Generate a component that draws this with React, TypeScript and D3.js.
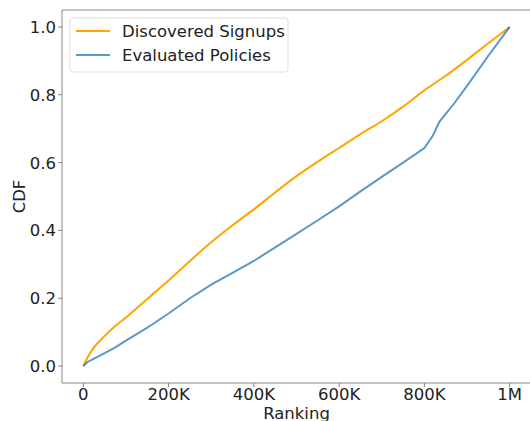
import { useEffect, useRef } from 'react';
import * as d3 from 'd3';

// Ranking positions (x) and CDF values (y)
const signupRanks = [0, 10e3, 25e3, 50e3, 75e3, 100e3, 150e3, 200e3, 250e3, 300e3, 350e3, 400e3, 450e3, 500e3, 550e3, 600e3, 650e3, 700e3, 750e3, 800e3, 850e3, 900e3, 950e3, 1e6];
const signupCdf = [0, 0.025, 0.055, 0.089, 0.118, 0.143, 0.198, 0.252, 0.31, 0.365, 0.415, 0.462, 0.512, 0.56, 0.603, 0.643, 0.684, 0.722, 0.765, 0.813, 0.856, 0.903, 0.952, 1.0];

const policyRanks = [0, 10e3, 25e3, 50e3, 75e3, 100e3, 150e3, 200e3, 250e3, 300e3, 350e3, 400e3, 450e3, 500e3, 550e3, 600e3, 650e3, 700e3, 750e3, 800e3, 820e3, 835e3, 870e3, 900e3, 950e3, 1e6];
const policyCdf = [0, 0.012, 0.022, 0.038, 0.055, 0.075, 0.113, 0.155, 0.2, 0.24, 0.275, 0.31, 0.35, 0.39, 0.43, 0.471, 0.515, 0.558, 0.6, 0.643, 0.68, 0.72, 0.775, 0.826, 0.915, 1.0];

const xTicks = [0, 200e3, 400e3, 600e3, 800e3, 1e6];
const xTickLabels = ['0', '200K', '400K', '600K', '800K', '1M'];
const yTicks = [0, 0.2, 0.4, 0.6, 0.8, 1.0];

const seriesNames = ['Discovered Signups', 'Evaluated Policies'];

const FONT = 'DejaVu Sans, sans-serif';

export default function App() {
  const svgRef = useRef<SVGSVGElement>(null);

  useEffect(() => {
    if (!svgRef.current) return;
    const svg = d3.select(svgRef.current);
    svg.selectAll('*').remove();

    const width = 530;
    const height = 421;
    const margin = { top: 10, left: 62, bottom: 383 };
    const plotRight = 531;

    const x = d3.scaleLinear().domain([-50e3, 1.05e6]).range([margin.left, plotRight]);
    const y = d3.scaleLinear().domain([-0.05, 1.05]).range([margin.bottom, margin.top]);

    svg.attr('width', width).attr('height', height);

    const smooth = d3
      .line<[number, number]>()
      .x((d) => x(d[0]))
      .y((d) => y(d[1]))
      .curve(d3.curveMonotoneX);
    const straight = d3
      .line<[number, number]>()
      .x((d) => x(d[0]))
      .y((d) => y(d[1]));

    const series = [
      { name: seriesNames[0], pts: signupRanks.map((r, i) => [r, signupCdf[i]] as [number, number]), color: '#ffa500', opacity: 1, gen: smooth },
      { name: seriesNames[1], pts: policyRanks.map((r, i) => [r, policyCdf[i]] as [number, number]), color: '#1f77b4', opacity: 0.75, gen: straight },
    ];

    // Lines (blue drawn last, matplotlib order)
    series.forEach((s) => {
      svg
        .append('path')
        .attr('d', s.gen(s.pts))
        .attr('fill', 'none')
        .attr('stroke', s.color)
        .attr('stroke-opacity', s.opacity)
        .attr('stroke-width', 2);
    });

    // Spines
    const spineColor = '#888';
    svg.append('line').attr('x1', margin.left).attr('x2', margin.left).attr('y1', margin.top).attr('y2', margin.bottom).attr('stroke', spineColor);
    svg.append('line').attr('x1', margin.left).attr('x2', plotRight).attr('y1', margin.top).attr('y2', margin.top).attr('stroke', spineColor);
    svg.append('line').attr('x1', margin.left).attr('x2', plotRight).attr('y1', margin.bottom).attr('y2', margin.bottom).attr('stroke', spineColor);

    // X ticks
    const xg = svg.append('g');
    xTicks.forEach((t, i) => {
      xg.append('line').attr('x1', x(t)).attr('x2', x(t)).attr('y1', margin.bottom).attr('y2', margin.bottom + 4).attr('stroke', spineColor);
      xg.append('text')
        .attr('x', x(t))
        .attr('y', margin.bottom + 17)
        .attr('text-anchor', 'middle')
        .attr('font-family', FONT)
        .attr('font-size', 16.5)
        .attr('fill', '#222')
        .text(xTickLabels[i]);
    });

    // Y ticks
    const yg = svg.append('g');
    yTicks.forEach((t) => {
      yg.append('line').attr('x1', margin.left - 4).attr('x2', margin.left).attr('y1', y(t)).attr('y2', y(t)).attr('stroke', spineColor);
      yg.append('text')
        .attr('x', margin.left - 6)
        .attr('y', y(t))
        .attr('dy', '0.36em')
        .attr('text-anchor', 'end')
        .attr('font-family', FONT)
        .attr('font-size', 16.5)
        .attr('fill', '#222')
        .text(t.toFixed(1));
    });

    // Axis labels
    svg.append('text')
      .attr('x', x(500e3))
      .attr('y', 419)
      .attr('text-anchor', 'middle')
      .attr('font-family', FONT)
      .attr('font-size', 16.5)
      .attr('fill', '#222')
      .text('Ranking');
    svg.append('text')
      .attr('transform', `translate(25,${y(0.5)}) rotate(-90)`)
      .attr('text-anchor', 'middle')
      .attr('font-family', FONT)
      .attr('font-size', 16.5)
      .attr('fill', '#222')
      .text('CDF');

    // Legend
    const lg = svg.append('g').attr('transform', 'translate(70,18)');
    lg.append('rect').attr('width', 218).attr('height', 54).attr('rx', 3).attr('fill', 'white').attr('fill-opacity', 0.8).attr('stroke', '#ddd');
    series.forEach((s, i) => {
      const ly = 13 + i * 24;
      lg.append('line').attr('x1', 6).attr('x2', 40).attr('y1', ly).attr('y2', ly).attr('stroke', s.color).attr('stroke-opacity', s.opacity).attr('stroke-width', 2);
      lg.append('text')
        .attr('x', 52)
        .attr('y', ly)
        .attr('dy', '0.36em')
        .attr('font-family', FONT)
        .attr('font-size', 16.5)
        .attr('fill', '#222')
        .text(s.name);
    });
  }, []);

  return (
    <div style={{ position: 'absolute', left: 0, top: 0 }}>
      <svg ref={svgRef} />
    </div>
  );
}
